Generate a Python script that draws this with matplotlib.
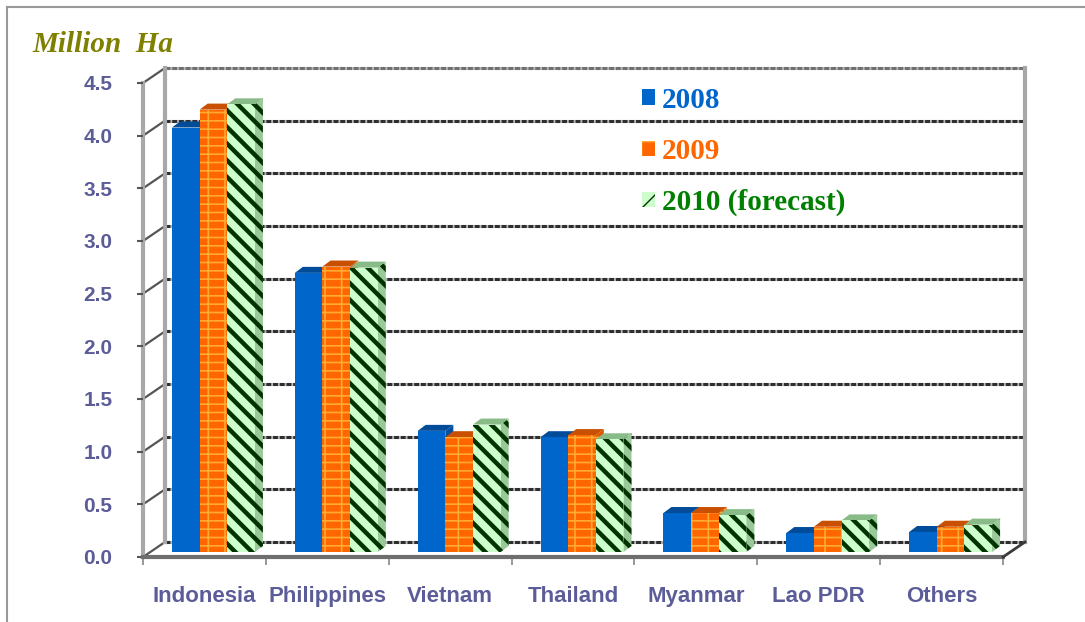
import matplotlib
matplotlib.use("Agg")
import matplotlib.pyplot as plt
from matplotlib.patches import Rectangle, Polygon, Patch
import numpy as np

countries = ["Indonesia", "Philippines", "Vietnam", "Thailand", "Myanmar", "Lao PDR", "Others"]
years = ["2008", "2009", "2010 (forecast)"]
v2008 = [4.03, 2.65, 1.15, 1.09, 0.37, 0.18, 0.19]
v2009 = [4.20, 2.71, 1.09, 1.11, 0.37, 0.24, 0.24]
v2010 = [4.25, 2.70, 1.21, 1.07, 0.35, 0.30, 0.26]
yticks = [0.0, 0.5, 1.0, 1.5, 2.0, 2.5, 3.0, 3.5, 4.0, 4.5]

# front colour, hatch, hatch colour, hatch lw, top colour, side colour, label colour
styles = [
    dict(fc="#0066CC", hatch=None, hc="#0066CC", hlw=1.0, top="#004C99", side="#00509F", lc="#0066CC", lh=None),
    dict(fc="#FF6600", hatch="--|", hc="#FFAA33", hlw=1.2, top="#C85000", side="#D95A00", lc="#FF6600", lh="-|"),
    dict(fc="#CCFFCC", hatch="\\\\", hc="#003300", hlw=3.2, top="#88BB88", side="#99C899", lc="#008000", lh="//"),
]

LBL = "#5C5C99"
W, H = 1085, 622
fig = plt.figure(figsize=(W / 100, H / 100), dpi=100)
ax = fig.add_axes([143 / W, (H - 557) / H, 860 / W, 474 / H])
ax.set_xlim(-0.5, 6.5)
ax.set_ylim(0, 4.5)
for s in ax.spines.values():
    s.set_visible(False)

# depth of back wall in data units
px_x = 7 / 860.0
px_y = 4.5 / 474.0
DX, DY = 22 * px_x, 15 * px_y

# outer frame
fig.add_artist(plt.Line2D([7 / W, 7 / W], [0, 1 - 7 / H], color="#999999", lw=1.5))
fig.add_artist(plt.Line2D([7 / W, 1], [1 - 7 / H, 1 - 7 / H], color="#999999", lw=1.5))

# back wall gridlines
for v in yticks:
    xs = [-0.5 + DX, 6.5 + DX]
    ys = [v + DY, v + DY]
    ax.plot(xs, ys, color="#B8B8B8", lw=2.2, clip_on=False, zorder=1, solid_capstyle="butt")
    ax.plot(xs, ys, color="#707070" if v == 4.5 else "#2E2E2E", lw=2.2, ls=(0, (1.6, 0.6)),
            clip_on=False, zorder=1.1)
    # side wall diagonals
    ax.plot([-0.5, -0.5 + DX], [v, v + DY], color="#555555", lw=1.6, clip_on=False, zorder=1.2)

# walls
ax.plot([-0.5 + DX] * 2, [DY, 4.5 + DY], color="#A8A8A8", lw=3, clip_on=False, zorder=1.3)
ax.plot([6.5 + DX] * 2, [DY, 4.5 + DY], color="#A8A8A8", lw=3, clip_on=False, zorder=1.3)
ax.plot([-0.5, -0.5], [0, 4.5], color="#A8A8A8", lw=3, clip_on=False, zorder=1.3)
# floor
ax.plot([-0.5, 6.5], [0, 0], color="#6E6E6E", lw=3, clip_on=False, zorder=2)
ax.plot([6.5, 6.5 + DX], [0, DY], color="#3A3A3A", lw=2, clip_on=False, zorder=2)

# bars
bw = 0.225
x0off = 0.236
y0 = 5 * px_y
bdx, bdy = 8 * px_x, 6 * px_y
series = [v2008, v2009, v2010]
z = 3
for i in range(len(countries)):
    for k, vals in enumerate(series):
        st = styles[k]
        x0 = i - 0.5 + x0off + k * bw
        x1 = x0 + bw
        top = y0 + vals[i]
        side = Polygon([(x1, y0), (x1, top), (x1 + bdx, top + bdy), (x1 + bdx, y0 + bdy)],
                       facecolor=st["side"], edgecolor=st["hc"], lw=0, hatch=st["hatch"], zorder=z)
        topf = Polygon([(x0, top), (x1, top), (x1 + bdx, top + bdy), (x0 + bdx, top + bdy)],
                       facecolor=st["top"], edgecolor="none", lw=0, zorder=z + 0.1)
        front = Rectangle((x0, y0), bw, vals[i], facecolor=st["fc"], edgecolor=st["hc"], lw=0,
                          hatch=st["hatch"], zorder=z + 0.2)
        for p in (side, front):
            if hasattr(p, "set_hatch_linewidth"):
                p.set_hatch_linewidth(st["hlw"])
            ax.add_patch(p)
        ax.add_patch(topf)
        z += 1

# ticks
ax.set_yticks(yticks)
ax.set_yticklabels([f"{v:.1f}" for v in yticks])
ax.tick_params(axis="y", length=4, width=1.5, color="#555555", pad=18, labelsize=15, labelcolor=LBL)
ax.set_xticks(range(len(countries)))
ax.set_xticklabels(countries)
ax.set_xticks(np.arange(-0.5, 7, 1.0), minor=True)
ax.tick_params(axis="x", which="major", length=0, pad=21, labelsize=16, labelcolor=LBL)
ax.tick_params(axis="x", which="minor", length=6, width=1.2, color="#888888")
for t in ax.get_xticklabels() + ax.get_yticklabels():
    t.set_fontfamily("Liberation Sans")
    t.set_fontweight("bold")

# legend
handles = []
for st in styles:
    h = Patch(facecolor=st["fc"], edgecolor=st["hc"], lw=0, hatch=st["lh"])
    if hasattr(h, "set_hatch_linewidth"):
        h.set_hatch_linewidth(st["hlw"] * 0.9)
    handles.append(h)
leg = ax.legend(handles, years, loc="upper left", bbox_to_anchor=(627 / W, 1 - 72 / H),
                bbox_transform=fig.transFigure, frameon=False, borderpad=0,
                handlelength=0.45, handleheight=0.45, handletextpad=0.25, labelspacing=0.83,
                prop=dict(family="Liberation Serif", weight="bold", size=21))
for t, st in zip(leg.get_texts(), styles):
    t.set_color(st["lc"])
leg.set_zorder(50)

fig.text(32 / W, 1 - 45 / H, "Million  Ha", family="Liberation Serif", weight="bold",
         style="italic", size=21, color="#808000", va="center", ha="left")

fig.savefig("out.png", dpi=100)
